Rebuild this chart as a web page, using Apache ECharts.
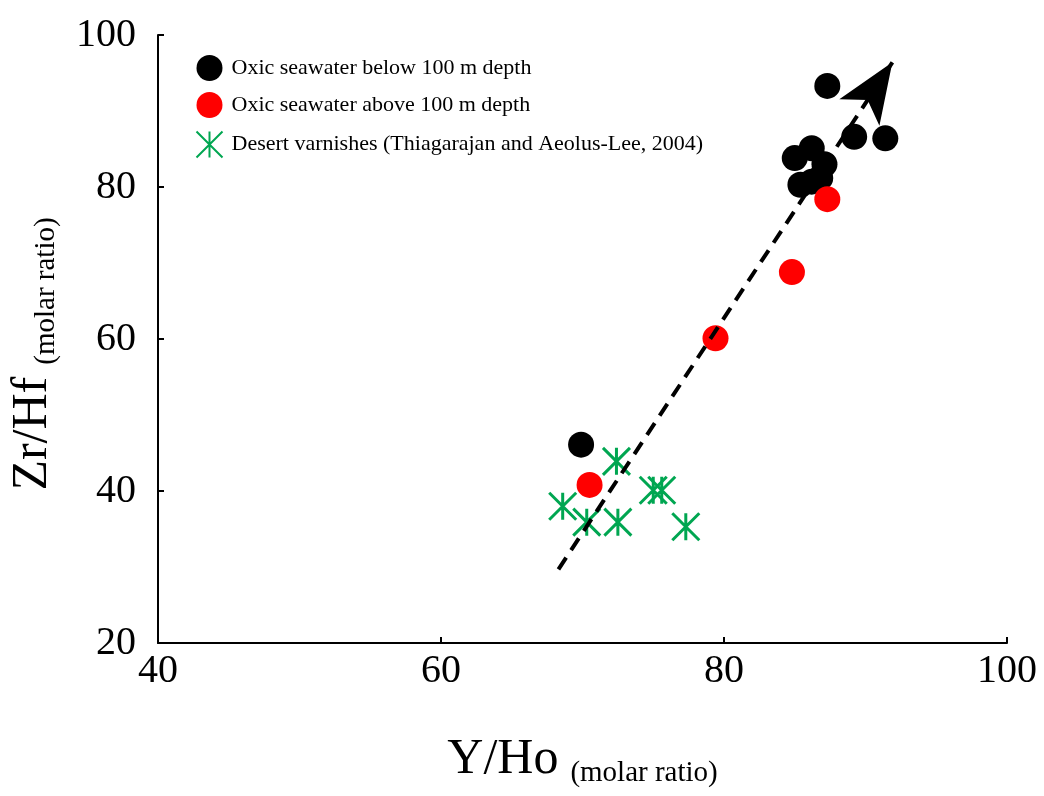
<!DOCTYPE html>
<html>
<head>
<meta charset="utf-8">
<script src="https://cdn.jsdelivr.net/npm/echarts@6/dist/echarts.min.js"></script>
<style>
  html, body { margin: 0; padding: 0; background: #fff; }
  #chart { width: 1044px; height: 796px; }
</style>
</head>
<body>
<div id="chart"></div>
<script>
// series names
var seriesNames = [
  'Oxic seawater below 100 m depth',
  'Oxic seawater above 100 m depth',
  'Desert varnishes (Thiagarajan and Aeolus-Lee, 2004)'
];

// [Y/Ho, Zr/Hf]
var deepSeawater = [
  [87.3, 93.3], [89.2, 86.6], [91.4, 86.4],
  [85.0, 83.8], [86.2, 85.1], [87.1, 83.0],
  [85.4, 80.3], [86.8, 81.2], [86.2, 80.7],
  [69.9, 46.1]
];
var shallowSeawater = [
  [87.3, 78.4], [84.8, 68.8], [79.4, 60.1], [70.5, 40.8]
];
var desertVarnish = [
  [72.4, 43.9], [68.6, 38.0], [70.3, 35.9], [72.5, 35.9],
  [75.0, 40.1], [75.6, 40.1], [77.3, 35.3]
];

// dashed trend arrow (start, arrow tip)
var trendLine = [[68.3, 29.7], [91.9, 96.4]];

var xTicks = { min: 40, max: 100, interval: 20 };
var yTicks = { min: 20, max: 100, interval: 20 };

var FONT = '"Liberation Serif", "Times New Roman", serif';
var asterisk = 'path://M0,-1L0,1M-1,-1L1,1M-1,1L1,-1';

var nameRich = {
  main: { fontFamily: FONT, fontSize: 50, color: '#000', lineHeight: 50, verticalAlign: 'top' },
  sub: { fontFamily: FONT, fontSize: 29, color: '#000', lineHeight: 29, verticalAlign: 'top', padding: [24, 0, 0, 12] }
};

var chart = echarts.init(document.getElementById('chart'));

chart.setOption({
  animation: false,
  backgroundColor: '#fff',
  grid: { left: 158, right: 37, top: 35, bottom: 153, containLabel: false, outerBoundsMode: 'none' },
  legend: {
    orient: 'vertical',
    left: 189,
    top: 50,
    itemWidth: 34,
    itemHeight: 26,
    itemGap: 11,
    selectedMode: false,
    textStyle: { fontFamily: FONT, fontSize: 22, color: '#000' },
    data: seriesNames
  },
  xAxis: {
    type: 'value',
    min: xTicks.min,
    max: xTicks.max,
    interval: xTicks.interval,
    name: '{main|Y/Ho}{sub|(molar ratio)}',
    nameLocation: 'middle',
    nameGap: 92,
    nameTextStyle: { rich: nameRich },
    axisLine: { show: true, lineStyle: { color: '#000', width: 2 } },
    axisTick: { show: true, inside: true, length: 6, lineStyle: { color: '#000', width: 2 } },
    axisLabel: { fontFamily: FONT, fontSize: 40, color: '#000', margin: 8 },
    splitLine: { show: false }
  },
  yAxis: {
    type: 'value',
    min: yTicks.min,
    max: yTicks.max,
    interval: yTicks.interval,
    name: '{main|Zr/Hf}{sub|(molar ratio)}',
    nameLocation: 'middle',
    nameGap: 100,
    nameRotate: 90,
    nameTextStyle: { rich: nameRich, padding: [0, 30, 0, 0] },
    axisLine: { show: true, lineStyle: { color: '#000', width: 2 } },
    axisTick: { show: true, inside: true, length: 6, lineStyle: { color: '#000', width: 2 } },
    axisLabel: { fontFamily: FONT, fontSize: 40, color: '#000', margin: 22 },
    splitLine: { show: false }
  },
  series: [
    {
      name: seriesNames[0],
      type: 'scatter',
      symbol: 'circle',
      symbolSize: 26,
      itemStyle: { color: '#000', opacity: 1 },
      data: deepSeawater,
      z: 2
    },
    {
      name: seriesNames[1],
      type: 'scatter',
      symbol: 'circle',
      symbolSize: 26,
      itemStyle: { color: '#ff0000', opacity: 1 },
      data: shallowSeawater,
      z: 2
    },
    {
      name: seriesNames[2],
      type: 'scatter',
      symbol: asterisk,
      symbolSize: 27,
      itemStyle: { color: 'none', borderColor: '#00a651', borderWidth: 3, opacity: 1 },
      data: desertVarnish,
      z: 3
    },
    {
      type: 'lines',
      coordinateSystem: 'cartesian2d',
      symbol: ['none', 'arrow'],
      symbolSize: [0, [36, 60]],
      lineStyle: { color: '#000', width: 4, type: [14, 9], opacity: 1 },
      itemStyle: { color: '#000' },
      data: [{ coords: trendLine }],
      z: 5
    }
  ]
});
</script>
</body>
</html>
